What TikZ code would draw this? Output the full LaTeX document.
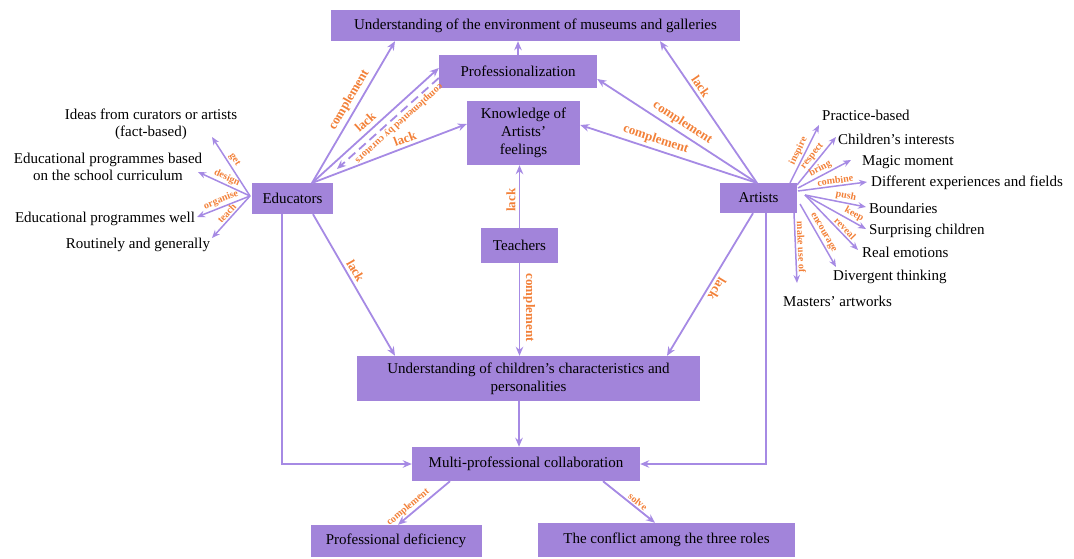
\documentclass[tikz,border=0pt]{standalone}
\usepackage{fontspec}
\setmainfont{Liberation Serif}
\usetikzlibrary{arrows.meta}
\definecolor{boxfill}{RGB}{162,132,218}
\definecolor{linkcol}{RGB}{166,138,228}
\definecolor{verbcol}{RGB}{242,128,56}
\begin{document}
\begin{tikzpicture}[x=1pt,y=-1pt,
  box/.style={fill=boxfill, inner sep=0pt, align=center, font=\fontsize{15}{18}\selectfont},
  note/.style={inner sep=0pt, align=center, font=\fontsize{15}{17}\selectfont},
  link/.style={draw=linkcol, line width=1.8pt, -{Stealth[length=9pt,width=7.5pt]}},
  twig/.style={draw=linkcol, line width=1.5pt, -{Stealth[length=8pt,width=6.5pt]}},
  verb/.style={text=verbcol, font=\bfseries\fontsize{13}{13}\selectfont, sloped, above, inner sep=3pt},
  smallverb/.style={text=verbcol, font=\bfseries\fontsize{10}{10}\selectfont, sloped, above, inner sep=1.5pt},
]
\useasboundingbox (0,0) rectangle (1074,559);

% ---------- boxes ----------
\node[box, minimum width=409pt, minimum height=31pt] (env) at (535.5,25.5)
  {Understanding of the environment of museums and galleries};
\node[box, minimum width=158pt, minimum height=33pt] (prof) at (518,71.5) {Professionalization};
\node[box, minimum width=113pt, minimum height=64pt] (know) at (523.5,133)
  {Knowledge of\\Artists’\\feelings};
\node[box, minimum width=81pt, minimum height=31pt] (edu) at (292.5,198.5) {Educators};
\node[box, minimum width=77pt, minimum height=30pt] (art) at (758.5,198) {Artists};
\node[box, minimum width=77pt, minimum height=35pt] (teach) at (519.5,245.5) {Teachers};
\node[box, minimum width=343pt, minimum height=45pt] (under) at (528.5,378.5)
  {Understanding of children’s characteristics and\\personalities};
\node[box, minimum width=228pt, minimum height=34pt] (multi) at (526,464) {Multi-professional collaboration};
\node[box, minimum width=171pt, minimum height=32pt] (defic) at (396,541) {Professional deficiency};
\node[box, minimum width=257pt, minimum height=34pt] (conf) at (666.5,540) {The conflict among the three roles};

% ---------- texts around the educators ----------
\node[note] (ideas) at (151,124) {Ideas from curators or artists\\(fact-based)};
\node[note] (curric) at (108,167) {Educational programmes based\\on the school curriculum};
\node[note] (well) at (105,219) {Educational programmes well};
\node[note] (routine) at (138,245) {Routinely and generally};

% ---------- texts around the artists ----------
\node[note, anchor=west] (practice) at (822,115) {Practice-based};
\node[note, anchor=west] (interest) at (838,139) {Children’s interests};
\node[note, anchor=west] (magic) at (862,162) {Magic moment};
\node[note, anchor=west] (fields) at (871,183) {Different experiences and fields};
\node[note, anchor=west] (bound) at (869,208) {Boundaries};
\node[note, anchor=west] (surpr) at (869,231) {Surprising children};
\node[note, anchor=west] (emot) at (862,252) {Real emotions};
\node[note, anchor=west] (diverg) at (833,277) {Divergent thinking};
\node[note, anchor=west] (master) at (783,301) {Masters’ artworks};

% ---------- connector ends ----------
\coordinate (eduTop) at (312,183);
\coordinate (artTop) at (757,183);
\coordinate (curEnd) at (337,169);
\coordinate (eduL) at (250,196);
\coordinate (tGet) at (212,137);
\coordinate (tDesign) at (198,172);
\coordinate (tOrg) at (197,217);
\coordinate (tTeach) at (212,238);
\coordinate (aA) at (790,183);
\coordinate (aB) at (797,185);
\coordinate (aC) at (798,188);
\coordinate (aD) at (798,191);
\coordinate (aE) at (805,195);
\coordinate (aF) at (800,204);
\coordinate (aG) at (794,213);
\coordinate (tInsp) at (819,125);
\coordinate (tResp) at (836,137);
\coordinate (tBring) at (851,160);
\coordinate (tComb) at (867,182);
\coordinate (tPush) at (866,207);
\coordinate (tKeep) at (866,229);
\coordinate (tReveal) at (858,250);
\coordinate (tEnc) at (836,267);
\coordinate (tUse) at (797,283);

% ---------- main connectors ----------
\draw[link] (prof.north) -- (prof.north |- env.south);
\draw[link] (eduTop) -- (395,0 |- env.south) node[verb, pos=0.55] {complement};
\draw[link] (eduTop) -- ([yshift=3.5pt]prof.west) node[verb, pos=0.47, inner sep=4pt] {lack};
\draw[link, dash pattern=on 9pt off 5pt] ([yshift=-6.5pt]prof.west) -- (curEnd)
  node[smallverb, pos=0.44, allow upside down, inner sep=2pt] {complemented by curators};
\draw[link] (eduTop) -- ([yshift=9pt]know.west) node[verb, pos=0.62] {lack};

\draw[link] (artTop) -- (660,0 |- env.south) node[verb, pos=0.65] {lack};
\draw[link] (artTop) -- ([yshift=-7.5pt]prof.east) node[verb, pos=0.5] {complement};
\draw[link] (artTop) -- ([yshift=8pt]know.east) node[verb, pos=0.59] {complement};

\draw[link] (teach.north) -- (teach.north |- know.south) node[verb, pos=0.44] {lack};
\draw[link] (teach.south) -- (teach.south |- under.north) node[verb, pos=0.48] {complement};

\draw[link] (313,0 |- edu.south) -- (395,0 |- under.north) node[verb, pos=0.43] {lack};
\draw[link] (753,0 |- art.south) -- (667,0 |- under.north)
  node[verb, pos=0.5, allow upside down] {lack};

\draw[link] (519,0 |- under.south) -- (519,0 |- multi.north);
\draw[link] (282,0 |- edu.south) |- (multi.west);
\draw[link] (766,0 |- art.south) |- (multi.east);

\draw[link] (450,0 |- multi.south) -- (398,0 |- defic.north) node[smallverb, pos=0.72] {complement};
\draw[link] (603,0 |- multi.south) -- (655,0 |- conf.north) node[smallverb, pos=0.6] {solve};

% ---------- educators' branches ----------
\draw[twig] (eduL) -- (tGet) node[smallverb, pos=0.55] {get};
\draw[twig] (eduL) -- (tDesign) node[smallverb, pos=0.5] {design};
\draw[twig] (eduL) -- (tOrg) node[smallverb, pos=0.5] {organise};
\draw[twig] (eduL) -- (tTeach) node[smallverb, pos=0.5] {teach};

% ---------- artists' branches ----------
\draw[twig] (aA) -- (tInsp) node[smallverb, pos=0.5] {inspire};
\draw[twig] (aB) -- (tResp) node[smallverb, pos=0.52] {respect};
\draw[twig] (aC) -- (tBring) node[smallverb, pos=0.48] {bring};
\draw[twig] (aD) -- (tComb) node[smallverb, pos=0.55] {combine};
\draw[twig] (aE) -- (tPush) node[smallverb, pos=0.65] {push};
\draw[twig] (aE) -- (tKeep) node[smallverb, pos=0.75] {keep};
\draw[twig] (aE) -- (tReveal) node[smallverb, pos=0.68] {reveal};
\draw[twig] (aF) -- (tEnc) node[smallverb, pos=0.5] {encourage};
\draw[twig] (aG) -- (tUse) node[smallverb, pos=0.49] {make use of};
\end{tikzpicture}
\end{document}
